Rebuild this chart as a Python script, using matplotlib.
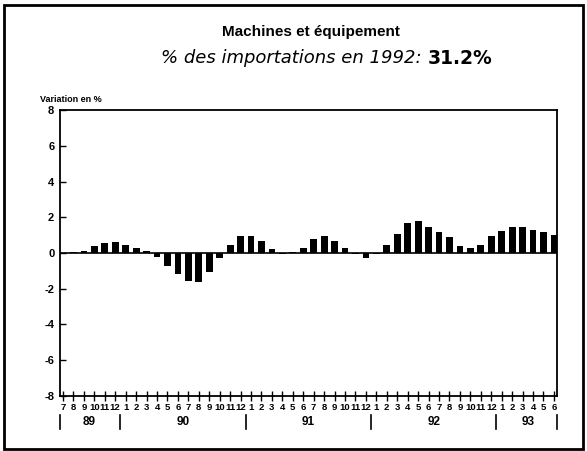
import matplotlib
matplotlib.use('Agg')
import matplotlib.pyplot as plt
import numpy as np
from matplotlib.patches import Rectangle
import matplotlib.transforms as mtransforms

plt.rcParams['font.family'] = ['Liberation Sans', 'DejaVu Sans']

# monthly change, Jul 1989 .. Jun 1993
months = [7, 8, 9, 10, 11, 12] + list(range(1, 13)) * 3 + [1, 2, 3, 4, 5, 6]
values = [0.0, 0.05, 0.1, 0.37, 0.55, 0.6,
          0.43, 0.3, 0.1, -0.25, -0.75, -1.2,
          -1.55, -1.65, -1.07, -0.3, 0.43, 0.97,
          0.93, 0.65, 0.2, -0.05, 0.05, 0.3,
          0.78, 0.96, 0.69, 0.26, -0.05, -0.28,
          -0.05, 0.46, 1.05, 1.7, 1.8, 1.48,
          1.15, 0.87, 0.4, 0.3, 0.46, 0.93,
          1.22, 1.43, 1.43, 1.31, 1.15, 1.0]
years = ['89', '90', '91', '92', '93']
year_counts = [6, 12, 12, 12, 6]
yticks = [-8, -6, -4, -2, 0, 2, 4, 6, 8]

fig = plt.figure(figsize=(5.87, 4.51), dpi=100)
ax = fig.add_axes([0.102, 0.122, 0.847, 0.634])

x = np.arange(len(values))
ax.bar(x, values, width=0.65, color='black')
ax.axhline(0, color='black', lw=1.2)

ax.set_xlim(-0.3, len(values) - 0.7)
ax.set_ylim(-8, 8)
ax.set_yticks(yticks)
ax.set_yticklabels([str(v) for v in yticks], fontweight='bold', fontsize=8)
ax.set_xticks(x)
ax.set_xticklabels([str(m) for m in months], fontweight='bold', fontsize=6.8)
ax.tick_params(axis='x', direction='inout', length=7, width=1, pad=1.5)
ax.tick_params(axis='y', direction='in', length=4, width=1, pad=4)
for s in ax.spines.values():
    s.set_linewidth(1.3)

# year labels and separators under the month labels
trans = mtransforms.blended_transform_factory(ax.transData, ax.transAxes)
edges = np.concatenate([[0], np.cumsum(year_counts)]) - 0.5
edges[0] = -0.3
edges[-1] = len(values) - 0.7
for e in edges:
    ax.plot([e, e], [-0.068, -0.115], transform=trans, color='black', lw=1.2, clip_on=False)
start = 0
for yr, n in zip(years, year_counts):
    ax.text(start + (n - 1) / 2, -0.09, yr, transform=trans, ha='center', va='center',
            fontweight='bold', fontsize=8.5)
    start += n

ax.text(-0.04, 1.02, 'Variation en %', transform=ax.transAxes, fontsize=6.5,
        fontweight='bold', ha='left', va='bottom')

fig.text(0.53, 0.93, 'Machines et équipement', ha='center', va='center',
         fontsize=11, fontweight='bold')
fig.text(0.728, 0.871, '% des importations en 1992: ', ha='right', va='center',
         fontsize=13, fontstyle='italic', family='DejaVu Sans')
fig.text(0.728, 0.871, '31.2%', ha='left', va='center', fontsize=13.5,
         fontweight='bold', family='DejaVu Sans')

fig.patches.append(Rectangle((0.007, 0.004), 0.986, 0.984, transform=fig.transFigure,
                             fill=False, edgecolor='black', lw=2))

fig.savefig('out.png', dpi=100)
